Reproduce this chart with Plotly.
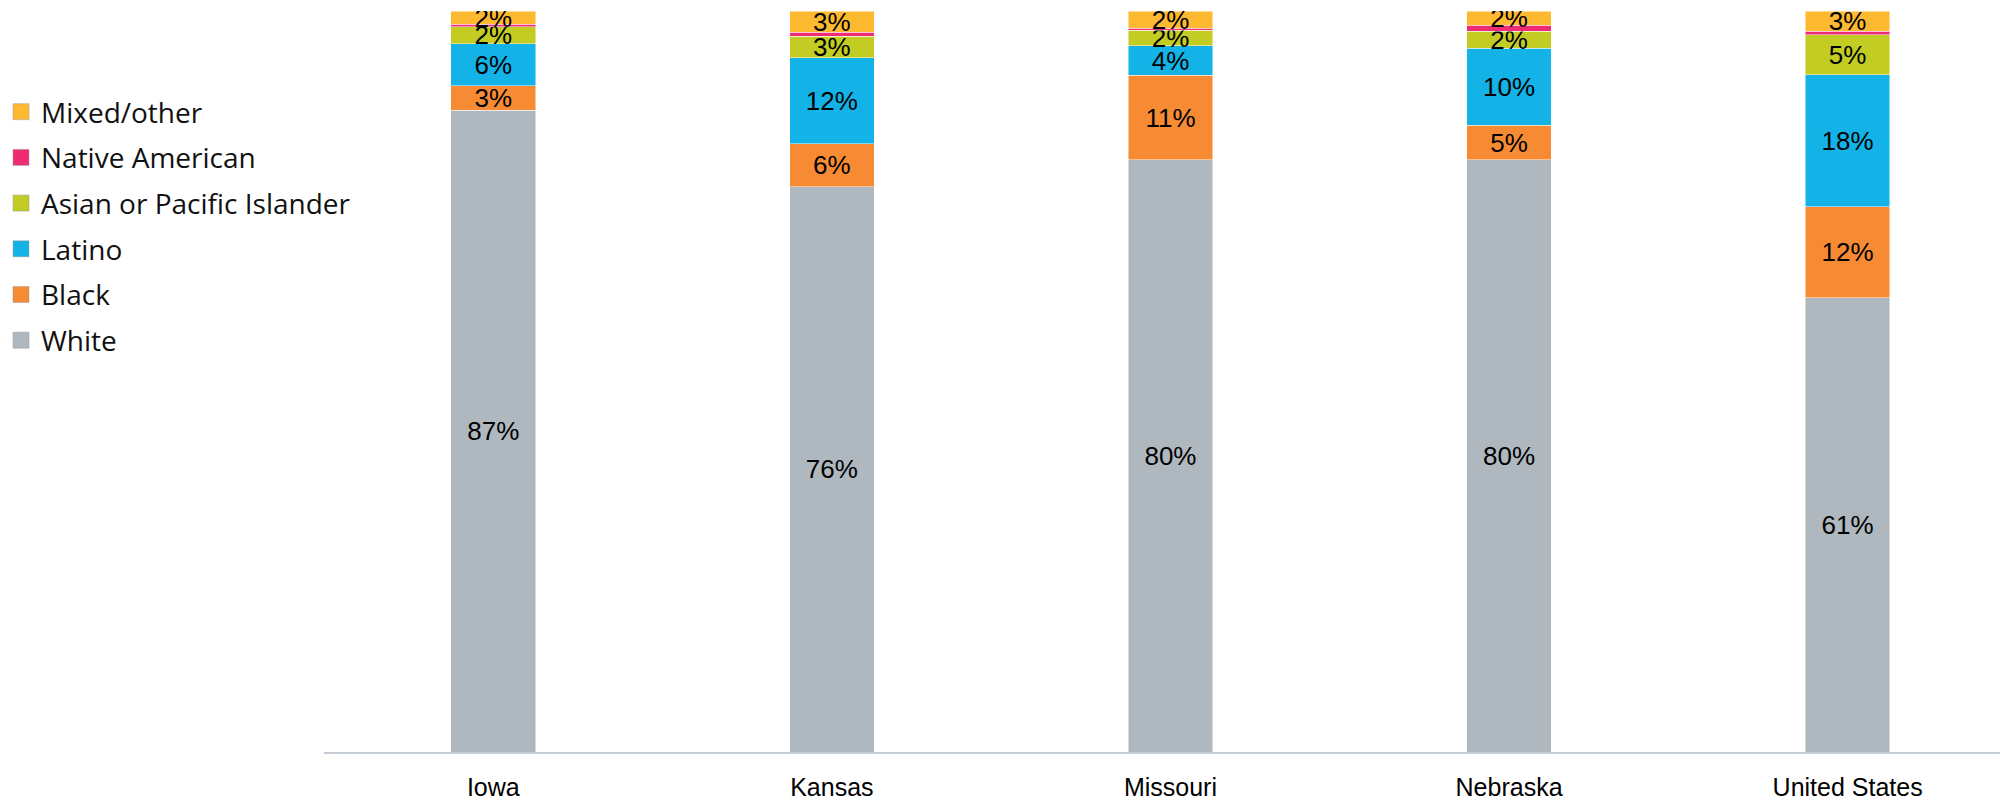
import plotly.graph_objects as go

categories = ["Iowa", "Kansas", "Missouri", "Nebraska", "United States"]

white = [86.6, 76.3, 79.9, 79.9, 61.3]
black = [3.3, 5.8, 11.4, 4.7, 12.3]
latino = [5.7, 11.6, 4.0, 10.4, 17.8]
asian = [2.3, 2.9, 2.1, 2.3, 5.4]
native = [0.3, 0.5, 0.3, 0.8, 0.5]
mixed = [1.8, 2.9, 2.3, 1.9, 2.7]

series_names = ["White", "Black", "Latino", "Asian or Pacific Islander", "Native American", "Mixed/other"]
series_values = [white, black, latino, asian, native, mixed]
series_colors = ["#afb8bf", "#f68b34", "#13b3e7", "#c2cc23", "#ef2b74", "#fdb930"]
show_labels = [True, True, True, True, False, True]

fig = go.Figure()
for name, vals, col, lab in zip(series_names, series_values, series_colors, show_labels):
    fig.add_trace(go.Bar(
        x=categories, y=vals, name=name,
        marker=dict(color=col, line=dict(width=0.8, color="rgba(255,255,255,0.6)")),
        texttemplate="%{y:.0f}%" if lab else "",
        textposition="inside", insidetextanchor="middle", textangle=0,
        textfont=dict(family="Liberation Sans, Arial, sans-serif", size=26, color="#000000"),
        showlegend=False, legendgroup=name,
    ))

# legend entries (top to bottom as in the reference)
for name, col in reversed(list(zip(series_names, series_colors))):
    fig.add_trace(go.Scatter(
        x=[None], y=[None], mode="markers", name=name, legendgroup=name,
        marker=dict(symbol="square", size=18, color=col, line=dict(width=0.5, color="#9a9a9a")),
        showlegend=True,
    ))

fig.update_layout(
    width=2000, height=804,
    barmode="stack", bargap=0.75,
    margin=dict(l=324, r=0, t=11, b=52, autoexpand=False),
    paper_bgcolor="white", plot_bgcolor="white",
    uniformtext=dict(minsize=26, mode="show"),
    legend=dict(
        xref="container", yref="container", x=0.0005, y=1 - 87 / 804,
        xanchor="left", yanchor="top",
        font=dict(family="Open Sans, sans-serif", size=28, color="#111111"),
        traceorder="grouped", tracegroupgap=6.3,
        bgcolor="rgba(0,0,0,0)",
    ),
    xaxis=dict(
        range=[-0.5, 4.45], showline=True, linecolor="#c5ccd3", linewidth=2,
        showgrid=False, ticks="", ticklabelstandoff=12,
        tickfont=dict(family="Liberation Sans, Arial, sans-serif", size=25, color="#000000"),
    ),
    yaxis=dict(range=[0, 100], visible=False, showgrid=False, zeroline=False),
)

fig.write_html("out.html", config={"displayModeBar": False},
               post_script="document.body.style.margin='0px';")
